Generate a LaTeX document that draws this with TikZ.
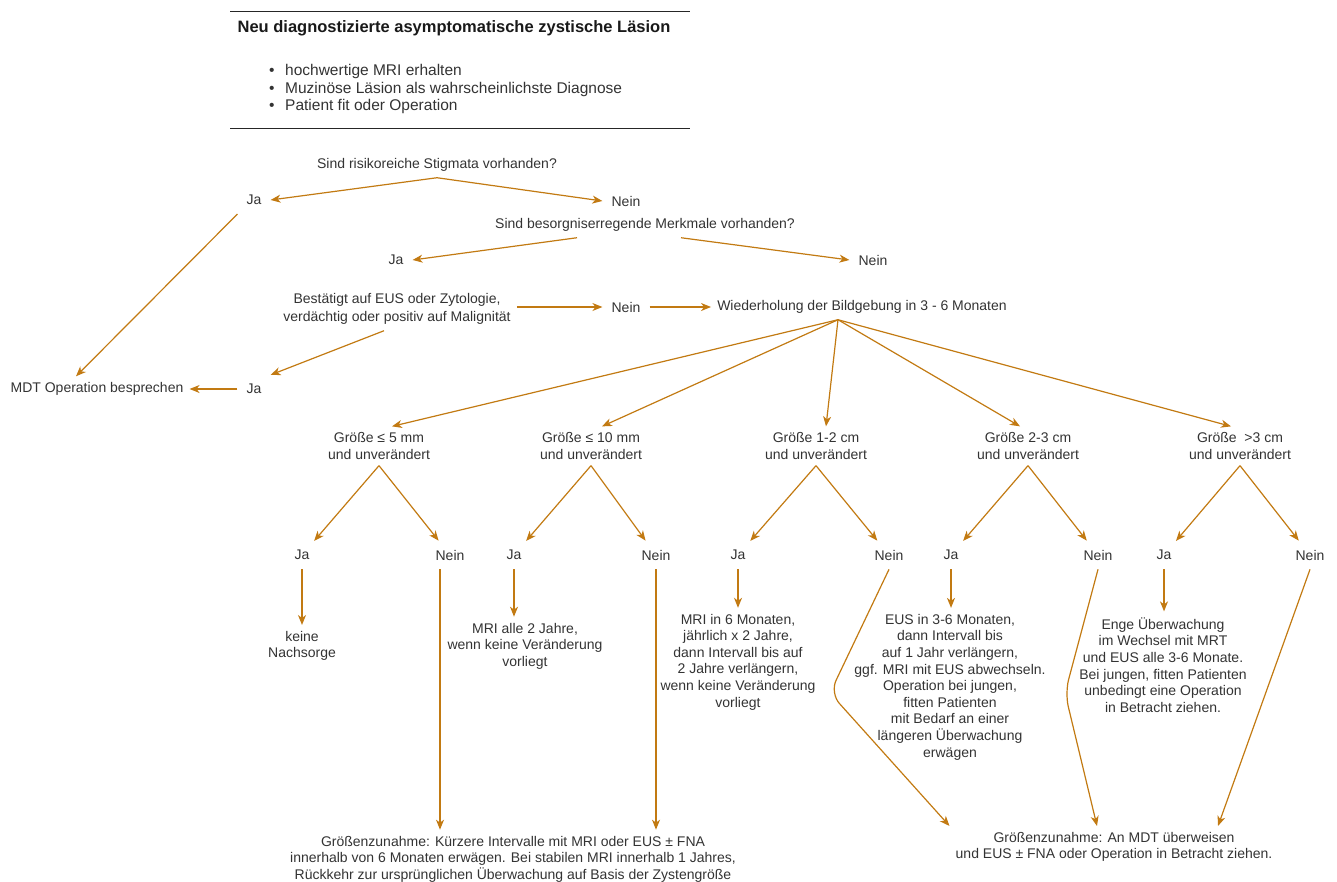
\documentclass[tikz,border=0pt]{standalone}
\usepackage{fontspec}
\setmainfont{Liberation Sans}
\usetikzlibrary{arrows.meta, positioning, calc}
\definecolor{floworange}{HTML}{C27A12}
\definecolor{textgrey}{HTML}{333333}

\begin{document}
\begin{tikzpicture}[x=1pt, y=-1pt,
  txt/.style={text=textgrey, font=\fontsize{14}{16.6}\selectfont, align=center, inner sep=6pt},
  choice/.style={txt, inner sep=9pt},
  arrow/.style={-{Stealth[length=10pt, width=8pt, inset=3pt]}, draw=floworange, line width=1.2pt},
  rule/.style={draw=black!85, line width=1pt}
]
  \useasboundingbox (0,0) rectangle (1337,881);

  % Header box
  \draw[rule] (230,11) -- (690,11);
  \draw[rule] (230,128) -- (690,128);
  \node[txt, text=black!90, font=\bfseries\fontsize{16.5}{20}\selectfont] (title) at (454,28) {Neu diagnostizierte asymptomatische zystische Läsion};
  \node[txt, anchor=west, align=left, inner sep=0pt, font=\fontsize{15.5}{17.8}\selectfont] (facts) at (269,89)
    {\makebox[16pt][l]{\textbullet}hochwertige MRI erhalten\\
     \makebox[16pt][l]{\textbullet}Muzinöse Läsion als wahrscheinlichste Diagnose\\
     \makebox[16pt][l]{\textbullet}Patient fit oder Operation};

  % Questions
  \node[txt] (q1) at (437,165) {Sind risikoreiche Stigmata vorhanden?};
  \node[choice] (ja1) at (254,200) {Ja};
  \node[choice] (ne1) at (626,201) {Nein};
  \node[txt] (q2) at (645,225) {Sind besorgniserregende Merkmale vorhanden?};
  \node[choice] (ja2) at (396,260) {Ja};
  \node[choice] (ne2) at (873,260) {Nein};
  \node[txt, font=\fontsize{14}{18}\selectfont] (q3) at (397,309) {Bestätigt auf EUS oder Zytologie,\\verdächtig oder positiv auf Malignität};
  \node[choice] (ne3) at (626,307) {Nein};
  \node[txt] (rep) at (862,307) {Wiederholung der Bildgebung in 3 - 6 Monaten};
  \node[txt] (mdt) at (97,389) {MDT Operation besprechen};
  \node[choice] (ja3) at (254,389) {Ja};

  % Size classes
  \node[txt] (s1) at (379,446) {Größe ≤ 5 mm\\und unverändert};
  \node[txt] (s2) at (591,446) {Größe ≤ 10 mm\\und unverändert};
  \node[txt] (s3) at (816,446) {Größe 1-2 cm\\und unverändert};
  \node[txt] (s4) at (1028,446) {Größe 2-3 cm\\und unverändert};
  \node[txt] (s5) at (1240,446) {Größe\ \ >3 cm\\und unverändert};

  % Ja / Nein per size class
  \node[choice] (j1) at (302,555) {Ja};
  \node[choice] (n1) at (450,555) {Nein};
  \node[choice] (j2) at (514,555) {Ja};
  \node[choice] (n2) at (656,555) {Nein};
  \node[choice] (j3) at (738,555) {Ja};
  \node[choice] (n3) at (889,555) {Nein};
  \node[choice] (j4) at (951,555) {Ja};
  \node[choice] (n4) at (1098,555) {Nein};
  \node[choice] (j5) at (1164,555) {Ja};
  \node[choice] (n5) at (1310,555) {Nein};

  % Follow-up
  \node[txt] (r1) at (302,646) {keine\\Nachsorge};
  \node[txt] (r2) at (525,646) {MRI alle 2 Jahre,\\wenn keine Veränderung\\vorliegt};
  \node[txt] (r3) at (738,662) {MRI in 6 Monaten,\\jährlich x 2 Jahre,\\dann Intervall bis auf\\2 Jahre verlängern,\\wenn keine Veränderung\\vorliegt};
  \node[txt] (r4) at (950,687) {EUS in 3-6 Monaten,\\dann Intervall bis\\auf 1 Jahr verlängern,\\ggf. MRI mit EUS abwechseln.\\Operation bei jungen,\\fitten Patienten\\mit Bedarf an einer\\längeren Überwachung\\erwägen};
  \node[txt] (r5) at (1163,665) {Enge Überwachung\\im Wechsel mit MRT\\und EUS alle 3-6 Monate.\\Bei jungen, fitten Patienten\\unbedingt eine Operation\\in Betracht ziehen.};
  \node[txt] (bl) at (513,859) {Größenzunahme: Kürzere Intervalle mit MRI oder EUS ± FNA\\innerhalb von 6 Monaten erwägen. Bei stabilen MRI innerhalb 1 Jahres,\\Rückkehr zur ursprünglichen Überwachung auf Basis der Zystengröße};
  \node[txt] (br) at (1114,847) {Größenzunahme: An MDT überweisen\\und EUS ± FNA oder Operation in Betracht ziehen.};

  % Decision arrows
  \draw[arrow] (q1.south) -- (ja1.east);
  \draw[arrow] (q1.south) -- (ne1.west);
  \draw[arrow] (ja1.south west) -- ([xshift=-21pt]mdt.north);
  \draw[arrow] ([xshift=-68pt]q2.south) -- (ja2.east);
  \draw[arrow] ([xshift=36pt]q2.south) -- (ne2.west);
  \draw[arrow] (q3.east |- ne3.west) -- (ne3.west);
  \draw[arrow] (ne3.east) -- (rep.west);
  \draw[arrow] ([xshift=-13pt]q3.south) -- (ja3.north east);
  \draw[arrow] (ja3.west) -- (mdt.east);

  % Fan out to size classes
  \coordinate (fan) at ([xshift=-24pt]rep.south);
  \draw[arrow] (fan) -- ([xshift=13pt]s1.north);
  \draw[arrow] (fan) -- ([xshift=11pt]s2.north);
  \draw[arrow] (fan) -- ([xshift=10pt]s3.north);
  \draw[arrow] (fan) -- ([xshift=-8pt]s4.north);
  \draw[arrow] (fan) -- ([xshift=-9pt]s5.north);

  % Size classes to Ja / Nein
  \draw[arrow] (s1.south) -- (j1);
  \draw[arrow] (s1.south) -- (n1);
  \draw[arrow] (s2.south) -- (j2);
  \draw[arrow] (s2.south) -- (n2);
  \draw[arrow] (s3.south) -- (j3);
  \draw[arrow] (s3.south) -- (n3);
  \draw[arrow] (s4.south) -- (j4);
  \draw[arrow] (s4.south) -- (n4);
  \draw[arrow] (s5.south) -- (j5);
  \draw[arrow] (s5.south) -- (n5);

  % Ja to follow-up
  \draw[arrow] (j1) -- (r1);
  \draw[arrow] (j2.south) -- (j2.south |- r2.north);
  \draw[arrow] (j3) -- (r3);
  \draw[arrow] (j4.south) -- (j4.south |- r4.north);
  \draw[arrow] (j5.south) -- (j5.south |- r5.north);

  % Nein to growth
  \coordinate (bend3) at (830,693);
  \coordinate (bend4) at (1065,693);
  \draw[arrow] ([xshift=-10pt]n1.south) -- ([xshift=-10pt]n1.south |- bl.north);
  \draw[arrow] (n2.south) -- (n2.south |- bl.north);
  \draw[arrow, rounded corners=14pt] (n3.south) -- (bend3) -- (br.north west);
  \draw[arrow, rounded corners=14pt] (n4.south) -- (bend4) -- ([xshift=-17pt]br.north);
  \draw[arrow] (n5.south) -- ([xshift=104pt]br.north);
\end{tikzpicture}
\end{document}
